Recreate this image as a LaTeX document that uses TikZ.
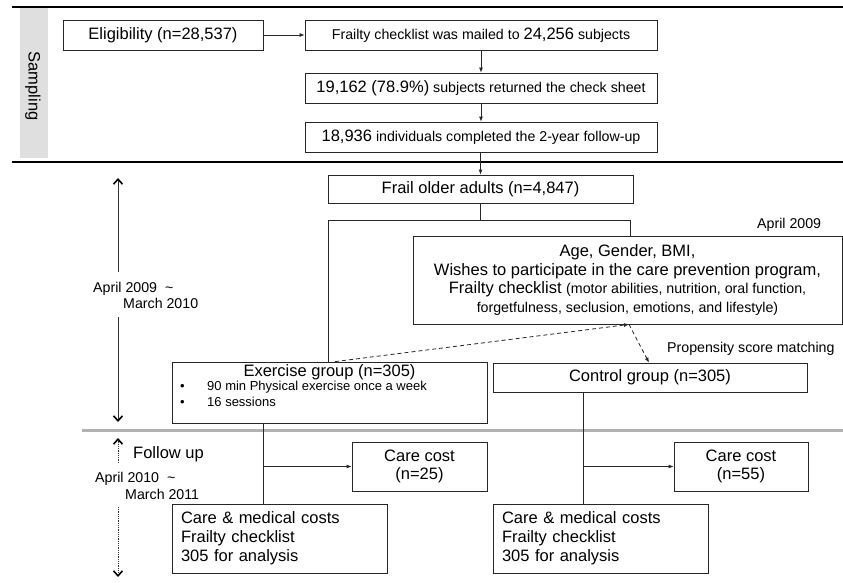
\documentclass[tikz,border=0pt]{standalone}
\usepackage{fontspec}
\setmainfont{Liberation Sans}
\usetikzlibrary{arrows.meta}
\newcommand{\fbig}{\fontsize{16.5}{18.7}\selectfont}
\newcommand{\fmid}{\fontsize{14.2}{17}\selectfont}
\newcommand{\fsmall}{\fontsize{13}{15}\selectfont}
\begin{document}
\begin{tikzpicture}[x=1pt,y=-1pt,
  box/.style={draw=black!85, line width=0.8pt, inner sep=0pt, align=center},
  leftbox/.style={box, inner xsep=9pt, text width=197pt, align=left, minimum height=69pt, font=\fontsize{16.5}{19}\selectfont},
  costbox/.style={box, minimum height=49pt, font=\fontsize{16.5}{17.5}\selectfont},
  conn/.style={draw=black!85, line width=0.8pt},
  arr/.style={conn, -{Latex[length=5pt,width=4pt]}},
  dasharr/.style={conn, dash pattern=on 4pt off 3pt, -{Latex[length=5pt,width=4pt]}},
  timearr/.style={draw=black!80, line width=0.8pt, -{Straight Barb[length=5pt,width=9pt,line width=1.6pt,black]}},
  lbl/.style={inner sep=0pt, anchor=base west},
  rule/.style={draw=black, line width=2pt},
]
\useasboundingbox (0,0) rectangle (843,582);

% sampling band
\node[fill=gray!25, minimum width=28pt, minimum height=150pt, inner sep=0pt] (band) at (34,83) {};
\node[rotate=-90, inner sep=0pt, font=\fbig] (samp) at (33,86) {Sampling};

% rules
\coordinate (r1a) at (12,7);   \coordinate (r1b) at (843,7);
\coordinate (r2a) at (12,162); \coordinate (r2b) at (843,162);
\coordinate (r3a) at (82,430); \coordinate (r3b) at (843,430);
\draw[rule] (r1a) -- (r1b);
\draw[rule] (r2a) -- (r2b);
\draw[gray!60, line width=3pt] (r3a) -- (r3b);

% sampling boxes
\node[box, minimum width=200pt, minimum height=30pt, font=\fbig] (elig) at (163,35) {Eligibility (n=28,537)};
\node[box, minimum width=352pt, minimum height=30pt] (mail) at (481,35) {\fmid Frailty checklist was mailed to {\fbig 24,256} subjects};
\node[box, minimum width=352pt, minimum height=30pt] (ret) at (481,88) {\fmid{\fbig 19,162 (78.9\%)} subjects returned the check sheet};
\node[box, minimum width=352pt, minimum height=30pt] (comp) at (481,137) {\fmid{\fbig 18,936} individuals completed the 2-year follow-up};

\draw[arr] (elig) -- (mail);
\draw[arr] (mail) -- (ret);
\draw[arr] (ret) -- (comp);

% intervention period
\node[box, minimum width=305pt, minimum height=28pt, font=\fbig] (frail) at (480.5,189) {Frail older adults (n=4,847)};
\draw[arr] (comp.south -| frail.north) -- (frail.north);

\node[box, minimum width=429pt, minimum height=88pt, font=\fbig] (age) at (627.5,280)
  {Age, Gender, BMI,\\
   Wishes to participate in the care prevention program,\\
   Frailty checklist {\fmid (motor abilities, nutrition, oral function,}\\
   {\fmid forgetfulness, seclusion, emotions, and lifestyle)}};
\node[lbl] (apr09) at (757,228) {\fmid April 2009};

\node[box, minimum width=315pt, minimum height=61pt] (ex) at (329.5,392.5) {};
\node[inner sep=0pt, anchor=base] (extitle) at (329.5,376) {\fbig Exercise group (n=305)};
\node[lbl] (bul1) at (180,390.5) {\fsmall •};
\node[lbl] (ext1) at (207,390.5) {\fsmall 90 min Physical exercise once a week};
\node[lbl] (bul2) at (180,406.5) {\fsmall •};
\node[lbl] (ext2) at (207,406.5) {\fsmall 16 sessions};

\node[box, minimum width=314pt, minimum height=29pt, font=\fbig] (ctrl) at (650,377.5) {Control group (n=305)};
\node[lbl] (psm) at (667,352) {\fmid Propensity score matching};

\coordinate (j) at (480.5,220);
\coordinate (jl) at (328,220);
\coordinate (jr) at (630,220);
\draw[conn] (frail.south) -- (j);
\draw[conn] (ex.north -| jl) -- (jl) -- (jr) -- (age.north -| jr);

\coordinate (xd1) at (335,0);
\coordinate (xd2) at (629,0);
\coordinate (xd3) at (649,0);
\draw[dasharr] (ex.north -| xd1) -- (age.south -| xd2);
\draw[dasharr] (age.south -| xd2) -- (ctrl.north -| xd3);

% left timeline 1
\coordinate (t1top) at (118,178);
\coordinate (t1u) at (118,272);
\coordinate (t1l) at (118,317);
\coordinate (t1bot) at (118,422);
\draw[timearr] (t1u) -- (t1top);
\draw[timearr] (t1l) -- (t1bot);
\node[lbl] (p1a) at (93,292) {\fmid April 2009\ \ \textasciitilde};
\node[lbl] (p1b) at (123,308) {\fmid March 2010};

% follow up
\coordinate (t2top) at (118,438);
\coordinate (t2u) at (118,463);
\coordinate (t2l) at (118,507);
\coordinate (t2bot) at (118,577);
\draw[timearr, densely dotted] (t2u) -- (t2top);
\draw[timearr, densely dotted] (t2l) -- (t2bot);
\node[lbl] (fu) at (133,458) {\fbig Follow up};
\node[lbl] (p2a) at (95,482) {\fmid April 2010\ \ \textasciitilde};
\node[lbl] (p2b) at (125,499) {\fmid March 2011};

\node[costbox, minimum width=135pt] (cc25) at (419.5,466.5) {Care cost\\(n=25)};
\node[costbox, minimum width=134pt] (cc55) at (741,466.5) {Care cost\\(n=55)};
\node[leftbox] (cm1) at (279.5,538.5) {Care \& medical costs\\Frailty checklist\\305 for analysis};
\node[leftbox] (cm2) at (600.5,538.5) {Care \& medical costs\\Frailty checklist\\305 for analysis};

\coordinate (exb) at (263,0);
\coordinate (ctb) at (583,0);
\draw[conn] (ex.south -| exb) -- (cm1.north -| exb);
\draw[arr] (cc25.west -| exb) -- (cc25.west);
\draw[conn] (ctrl.south -| ctb) -- (cm2.north -| ctb);
\draw[arr] (cc55.west -| ctb) -- (cc55.west);
\end{tikzpicture}
\end{document}
